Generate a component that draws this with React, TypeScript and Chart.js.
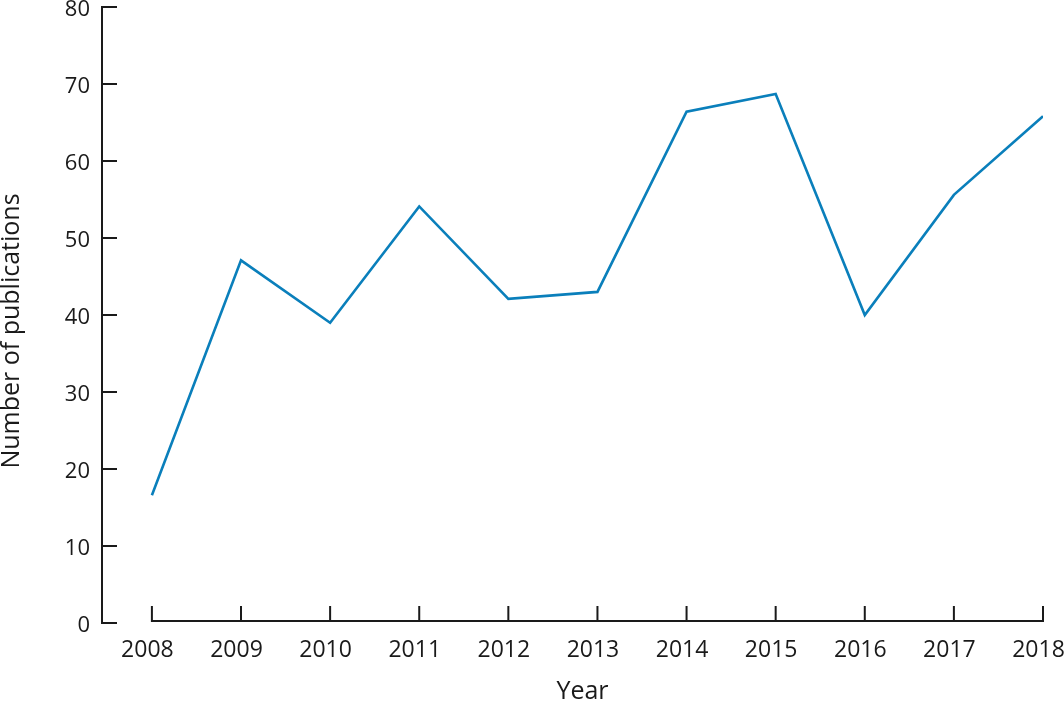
import { useEffect, useRef } from 'react';
import { Chart, registerables } from 'chart.js';

Chart.register(...registerables);

const YEARS = [2008, 2009, 2010, 2011, 2012, 2013, 2014, 2015, 2016, 2017, 2018];
const PUBLICATIONS = [16.6, 47.1, 39.0, 54.1, 42.1, 43.0, 66.4, 68.7, 40.0, 55.6, 65.8];
const Y_TICKS = [0, 10, 20, 30, 40, 50, 60, 70, 80];
const X_TITLE = 'Year';
const Y_TITLE = 'Number of publications';

const FONT = "'Open Sans', sans-serif";
const INK = '#1a1a1a';
const LINE = '#0a7fbb';

const axesPlugin = {
  id: 'customAxes',
  afterDraw(chart: any) {
    const { ctx, chartArea, scales } = chart;
    const x = scales.x;
    const y = scales.y;
    const yMin = Y_TICKS[0];
    const yMax = Y_TICKS[Y_TICKS.length - 1];
    const y0 = y.getPixelForValue(yMin);
    const yTop = y.getPixelForValue(yMax);
    const ax = chartArea.left;
    ctx.save();
    ctx.strokeStyle = INK;
    ctx.lineWidth = 2;
    ctx.beginPath();
    ctx.moveTo(ax, yTop - 1);
    ctx.lineTo(ax, y0 + 1);
    Y_TICKS.forEach((v) => {
      const py = y.getPixelForValue(v);
      ctx.moveTo(ax, py);
      ctx.lineTo(ax + 15, py);
    });
    const by = y0 - 2;
    const x0 = x.getPixelForValue(YEARS[0]);
    const x1 = x.getPixelForValue(YEARS[YEARS.length - 1]);
    ctx.moveTo(x0 - 1, by);
    ctx.lineTo(x1 + 1, by);
    YEARS.forEach((v) => {
      const px = x.getPixelForValue(v);
      ctx.moveTo(px, by);
      ctx.lineTo(px, by - 15);
    });
    ctx.stroke();

    ctx.fillStyle = INK;
    ctx.font = `25px ${FONT}`;
    ctx.textAlign = 'center';
    ctx.textBaseline = 'middle';
    ctx.fillText(X_TITLE, (chartArea.left + chartArea.right) / 2 + 10, chart.height - 12);
    ctx.translate(12, (yTop + y0) / 2 + 16);
    ctx.rotate(-Math.PI / 2);
    ctx.fillText(Y_TITLE, 0, 0);
    ctx.restore();
  },
};

export default function App() {
  const canvasRef = useRef<HTMLCanvasElement | null>(null);

  useEffect(() => {
    document.body.style.margin = '0';
    const canvas = canvasRef.current;
    if (!canvas) return;
    const chart = new Chart(canvas, {
      type: 'line',
      data: {
        datasets: [
          {
            data: YEARS.map((yr, i) => ({ x: yr, y: PUBLICATIONS[i] })),
            borderColor: LINE,
            borderWidth: 2.6,
            pointRadius: 0,
            tension: 0,
            fill: false,
          },
        ],
      },
      options: {
        animation: false,
        responsive: true,
        maintainAspectRatio: false,
        layout: { padding: { top: 7, right: 21, left: 0, bottom: 0 } },
        plugins: {
          legend: { display: false },
          tooltip: { enabled: false },
        },
        scales: {
          x: {
            type: 'linear',
            min: YEARS[0] - 0.56,
            max: YEARS[YEARS.length - 1],
            afterBuildTicks: (scale: any) => {
              scale.ticks = YEARS.map((v) => ({ value: v }));
            },
            afterFit: (scale: any) => {
              scale.height = 81;
              scale.paddingLeft = 0;
              scale.paddingRight = 0;
            },
            grid: { display: false, drawTicks: false },
            border: { display: false },
            ticks: {
              color: INK,
              font: { family: FONT, size: 23 },
              padding: 14,
              labelOffset: -4.5,
              maxRotation: 0,
              autoSkip: false,
              callback: (v: any) => String(v),
            },
          },
          y: {
            min: Y_TICKS[0],
            max: Y_TICKS[Y_TICKS.length - 1],
            afterBuildTicks: (scale: any) => {
              scale.ticks = Y_TICKS.map((v) => ({ value: v }));
            },
            afterFit: (scale: any) => {
              scale.width = 102;
              scale.paddingTop = 0;
              scale.paddingBottom = 0;
            },
            grid: { display: false, drawTicks: false },
            border: { display: false },
            ticks: {
              color: INK,
              font: { family: FONT, size: 22 },
              padding: 12,
              labelOffset: 3,
              callback: (v: any) => String(v),
            },
          },
        },
      },
      plugins: [axesPlugin],
    });
    return () => chart.destroy();
  }, []);

  return (
    <div style={{ position: 'relative', width: 1064, height: 704 }}>
      <canvas ref={canvasRef} />
    </div>
  );
}
